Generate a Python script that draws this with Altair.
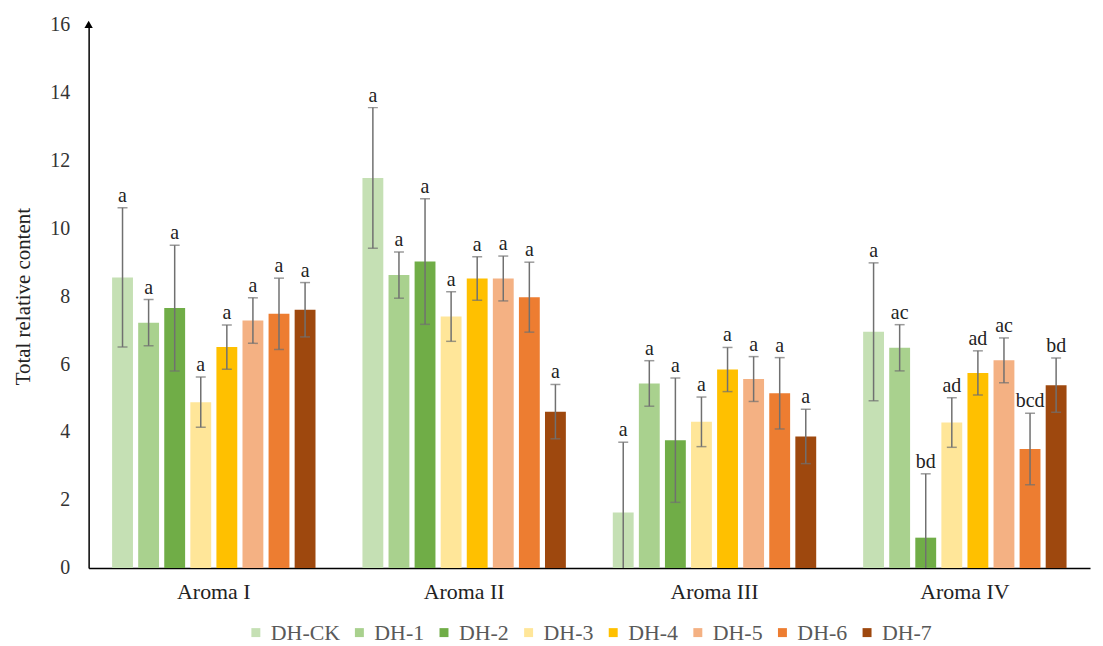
import altair as alt
import pandas as pd

groups = ["Aroma I", "Aroma II", "Aroma III", "Aroma IV"]
treatments = ["DH-CK", "DH-1", "DH-2", "DH-3", "DH-4", "DH-5", "DH-6", "DH-7"]
colors = ["#C5E0B4", "#A9D18E", "#70AD47", "#FFE699", "#FFC000", "#F4B183", "#ED7D31", "#9E480E"]

values_I = [8.55, 7.22, 7.65, 4.88, 6.50, 7.28, 7.48, 7.60]
values_II = [11.48, 8.62, 9.02, 7.40, 8.52, 8.52, 7.97, 4.60]
values_III = [1.63, 5.43, 3.76, 4.30, 5.84, 5.56, 5.14, 3.87]
values_IV = [6.95, 6.48, 0.89, 4.28, 5.74, 6.11, 3.50, 5.38]

err_I = [2.05, 0.68, 1.85, 0.74, 0.65, 0.67, 1.05, 0.80]
err_II = [2.07, 0.68, 1.85, 0.73, 0.64, 0.66, 1.03, 0.80]
err_III = [2.07, 0.67, 1.83, 0.73, 0.65, 0.66, 1.05, 0.80]
err_IV = [2.03, 0.68, 1.88, 0.73, 0.65, 0.66, 1.05, 0.80]

letters_I = ["a"] * 8
letters_II = ["a"] * 8
letters_III = ["a"] * 8
letters_IV = ["a", "ac", "bd", "ad", "ad", "ac", "bcd", "bd"]

rows = []
for g, vals, errs, lets in zip(
    groups,
    [values_I, values_II, values_III, values_IV],
    [err_I, err_II, err_III, err_IV],
    [letters_I, letters_II, letters_III, letters_IV],
):
    for t, v, e, l in zip(treatments, vals, errs, lets):
        rows.append({"group": g, "treatment": t, "value": v, "lo": v - e, "hi": v + e, "letter": l})
df = pd.DataFrame(rows)

FONT = "Liberation Serif"

x_enc = alt.X("group:N", sort=groups, title=None,
              scale=alt.Scale(paddingInner=0, paddingOuter=0),
              axis=alt.Axis(labelAngle=0, ticks=False, domainColor="black", domainWidth=1.5,
                            labelPadding=14, labelFontSize=22, labelColor="#222", labelFont=FONT))
xo_enc = alt.XOffset("treatment:N", sort=treatments,
                     scale=alt.Scale(paddingInner=0.2, paddingOuter=0.9))

base = alt.Chart(df)

bars = base.mark_bar().encode(
    x=x_enc,
    xOffset=xo_enc,
    y=alt.Y("value:Q", title="Total relative content",
            scale=alt.Scale(domain=[0, 16], nice=False),
            axis=alt.Axis(values=list(range(0, 17, 2)), ticks=False, grid=False,
                          domainColor="black", domainWidth=1.5, labelPadding=19,
                          labelFontSize=20, labelColor="#333", labelFont=FONT,
                          titleFont=FONT, titleFontSize=21, titleFontWeight="normal",
                          titleColor="#222", titlePadding=16)),
    color=alt.Color("treatment:N", sort=treatments,
                    scale=alt.Scale(domain=treatments, range=colors),
                    legend=alt.Legend(title=None, orient="none", direction="horizontal",
                                      legendX=157, legendY=600, symbolType="square",
                                      symbolSize=81, symbolStrokeWidth=0,
                                      labelFont=FONT, labelFontSize=22, labelColor="#595959",
                                      columnPadding=8, labelOffset=4, padding=0)),
)

rules = base.mark_rule(color="#707070", strokeWidth=1.5, clip=True).encode(
    x=alt.X("group:N", sort=groups),
    xOffset=xo_enc,
    y="lo:Q",
    y2="hi:Q",
)

caps_hi = base.mark_tick(color="#707070", thickness=1.5, size=10, orient="horizontal", clip=True).encode(
    x=alt.X("group:N", sort=groups),
    xOffset=xo_enc,
    y="hi:Q",
)
caps_lo = base.mark_tick(color="#707070", thickness=1.5, size=10, orient="horizontal", clip=True).encode(
    x=alt.X("group:N", sort=groups),
    xOffset=xo_enc,
    y="lo:Q",
)

labels = base.mark_text(baseline="alphabetic", dy=-6, font=FONT, fontSize=20, color="#222").encode(
    x=alt.X("group:N", sort=groups),
    xOffset=xo_enc,
    y="hi:Q",
    text="letter:N",
)

arrow = alt.Chart(alt.Data(values=[{"v": 16}])).mark_point(
    shape="triangle-up", filled=True, color="black", size=70, opacity=1
).encode(x=alt.value(0), y=alt.Y("v:Q"))

chart = alt.layer(bars, rules, caps_hi, caps_lo, labels, arrow).properties(
    width=1006, height=546, background="white"
).configure_view(stroke=None)

chart.save("out.html", embed_options={"renderer": "svg", "actions": False})
